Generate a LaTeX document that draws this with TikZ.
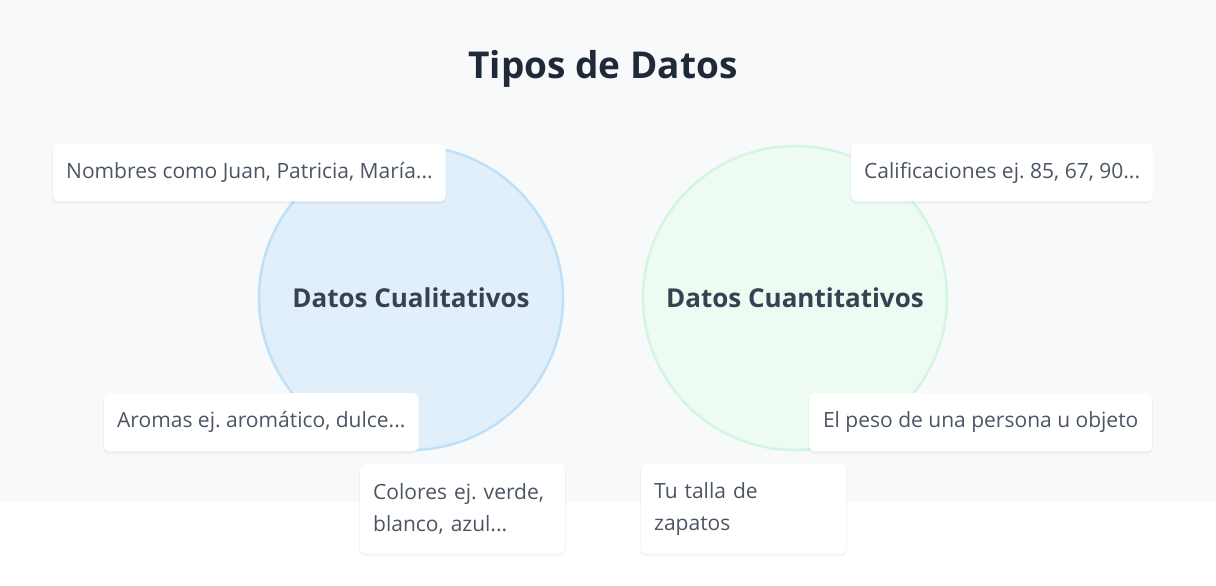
\documentclass[tikz,border=0pt]{standalone}
\usepackage{fontspec}
\setmainfont{Open Sans}
\frenchspacing
\definecolor{pagebg}{HTML}{F8F9FB}
\definecolor{titlecol}{HTML}{1F2937}
\definecolor{labelcol}{HTML}{374151}
\definecolor{boxtext}{HTML}{4B5563}
\definecolor{qualfill}{HTML}{E1EFFB}
\definecolor{qualdraw}{HTML}{BFE1F8}
\definecolor{quanfill}{HTML}{EDFBF3}
\definecolor{quandraw}{HTML}{D3F6E2}
\tikzset{
  infobox/.style={fill=white, rounded corners=5pt, anchor=north west,
    inner xsep=13pt, inner ysep=0pt, text=boxtext, align=left,
    font=\fontsize{21}{32}\selectfont},
  bigcircle/.style={circle, line width=2.5pt, minimum size=304pt, inner sep=0pt,
    text=labelcol, font=\fontsize{26}{30}\selectfont\bfseries},
  shadowbox/.style={fill=black, opacity=0.035, rounded corners=6pt}
}
\begin{document}
\begin{tikzpicture}[x=1pt,y=-1pt]
\useasboundingbox (0,0) rectangle (1216,586);
\fill[white] (0,0) rectangle (1216,586);
\fill[pagebg] (0,0) rectangle (1216,502);
\node[text=titlecol, font=\fontsize{37}{42}\selectfont\bfseries] (title) at (603,69) {Tipos de Datos};
\node[bigcircle, fill=qualfill, draw=qualdraw] (qual) at (411,298) {Datos Cualitativos};
\node[bigcircle, fill=quanfill, draw=quandraw] (quan) at (795,298) {Datos Cuantitativos};
% shadows
\fill[shadowbox] (52,145) rectangle (446,204);
\fill[shadowbox] (850,145) rectangle (1153,204);
\fill[shadowbox] (103,394) rectangle (418,454);
\fill[shadowbox] (808,394) rectangle (1153,454);
\fill[shadowbox] (359,465) rectangle (566,556);
\fill[shadowbox] (640,465) rectangle (847,556);
% boxes
\node[infobox, minimum width=392pt, minimum height=57pt, align=center] (b1) at (53,144) {Nombres como Juan, Patricia, María...};
\node[infobox, minimum width=301pt, minimum height=57pt, align=center] (b2) at (851,144) {Calificaciones ej. 85, 67, 90...};
\node[infobox, minimum width=313pt, minimum height=58pt, align=center] (b3) at (104,393) {Aromas ej. aromático, dulce...};
\node[infobox, minimum width=343pt, minimum height=58pt, align=center] (b4) at (809,393) {El peso de una persona u objeto};
\node[infobox, text width=179pt, minimum height=89pt] (b5) at (360,464) {Colores ej. verde,\\blanco, azul...};
\node[infobox, text width=179pt, minimum height=89pt] (b6) at (641,464) {Tu talla de\\zapatos};
\end{tikzpicture}
\end{document}
